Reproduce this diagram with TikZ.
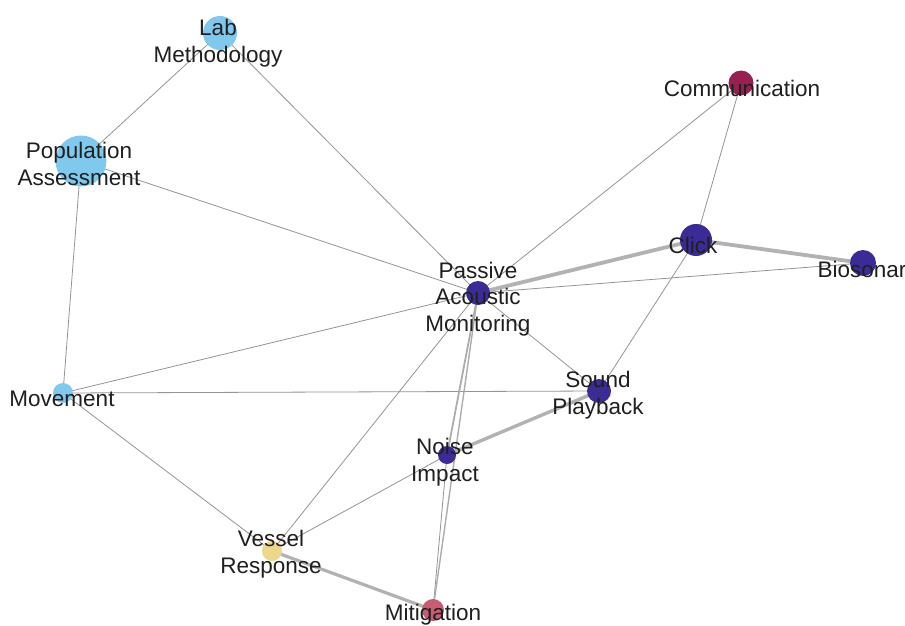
\documentclass[tikz,border=0pt]{standalone}
\usepackage{fontspec}
\setmainfont{Liberation Sans}
\begin{document}
\begin{tikzpicture}[x=1pt,y=-1pt,
  vert/.style={circle,inner sep=0pt,draw=none},
  lbl/.style={align=center,inner sep=0pt,text=black!88,font=\fontsize{22.5}{26.5}\selectfont},
  thinedge/.style={draw=black!42,line width=0.8pt},
  midedge/.style={draw=black!32,line width=1.8pt},
  heavyedge/.style={draw=black!30,line width=3.8pt},
]
\definecolor{skyb}{RGB}{128,200,236}
\definecolor{indigo}{RGB}{58,44,148}
\definecolor{plum}{RGB}{150,32,82}
\definecolor{rose}{RGB}{200,92,112}
\definecolor{sand}{RGB}{236,216,140}
\useasboundingbox (0,0) rectangle (905,626);
\fill[white] (0,0) rectangle (905,626);

% vertices (sizes encode degree)
\coordinate (lab) at (220,33);
\coordinate (pop) at (81,161);
\coordinate (com) at (741,83);
\coordinate (clk) at (696,240);
\coordinate (bio) at (863,263);
\coordinate (pam) at (478,293);
\coordinate (snd) at (599,391);
\coordinate (mov) at (63,393);
\coordinate (noi) at (447,455);
\coordinate (ves) at (272,551);
\coordinate (mit) at (433,610);

% edges
\draw[thinedge] (lab) -- (pop);
\draw[thinedge] (lab) -- (pam);
\draw[thinedge] (pop) -- (pam);
\draw[thinedge] (pop) -- (mov);
\draw[thinedge] (com) -- (pam);
\draw[thinedge] (com) -- (clk);
\draw[thinedge] (bio) -- (pam);
\draw[thinedge] (clk) -- (snd);
\draw[thinedge] (pam) -- (snd);
\draw[thinedge] (pam) -- (mov);
\draw[thinedge] (mov) -- (snd);
\draw[thinedge] (mov) -- (ves);
\draw[thinedge] (noi) -- (ves);
\draw[thinedge] (pam) -- (ves);
\draw[thinedge] (noi) -- (mit);
\draw[midedge] (pam) -- (noi);
\draw[midedge,line width=1.4pt] (pam) -- (mit);
\draw[heavyedge] (clk) -- (pam);
\draw[heavyedge] (clk) -- (bio);
\draw[heavyedge,line width=3.4pt] (snd) -- (noi);
\draw[heavyedge,line width=3.2pt] (ves) -- (mit);

% vertex discs
\node[vert,fill=skyb,minimum size=34pt] (labv) at (lab) {};
\node[vert,fill=skyb,minimum size=51pt] (popv) at (pop) {};
\node[vert,fill=plum,minimum size=25pt] (comv) at (com) {};
\node[vert,fill=indigo,minimum size=32pt] (clkv) at (clk) {};
\node[vert,fill=indigo,minimum size=26pt] (biov) at (bio) {};
\node[vert,fill=indigo,minimum size=24pt] (pamv) at (pam) {};
\node[vert,fill=indigo,minimum size=24pt] (sndv) at (snd) {};
\node[vert,fill=skyb,minimum size=20pt] (movv) at (mov) {};
\node[vert,fill=indigo,minimum size=18pt] (noiv) at (noi) {};
\node[vert,fill=sand,minimum size=20pt] (vesv) at (ves) {};
\node[vert,fill=rose,minimum size=22pt] (mitv) at (mit) {};

% labels
\node[lbl] (labt) at (218,43) {Lab\\Methodology};
\node[lbl] (popt) at (79,164) {Population\\Assessment};
\node[lbl] (comt) at (742,88) {Communication};
\node[lbl] (clkt) at (693,245) {Click};
\node[lbl] (biot) at (862,269) {Biosonar};
\node[lbl] (pamt) at (478,299) {Passive\\Acoustic\\Monitoring};
\node[lbl] (sndt) at (598,395) {Sound\\Playback};
\node[lbl] (movt) at (62,399) {Movement};
\node[lbl] (noit) at (445,462) {Noise\\Impact};
\node[lbl] (vest) at (271,554) {Vessel\\Response};
\node[lbl] (mitt) at (433,615) {Mitigation};
\end{tikzpicture}
\end{document}
